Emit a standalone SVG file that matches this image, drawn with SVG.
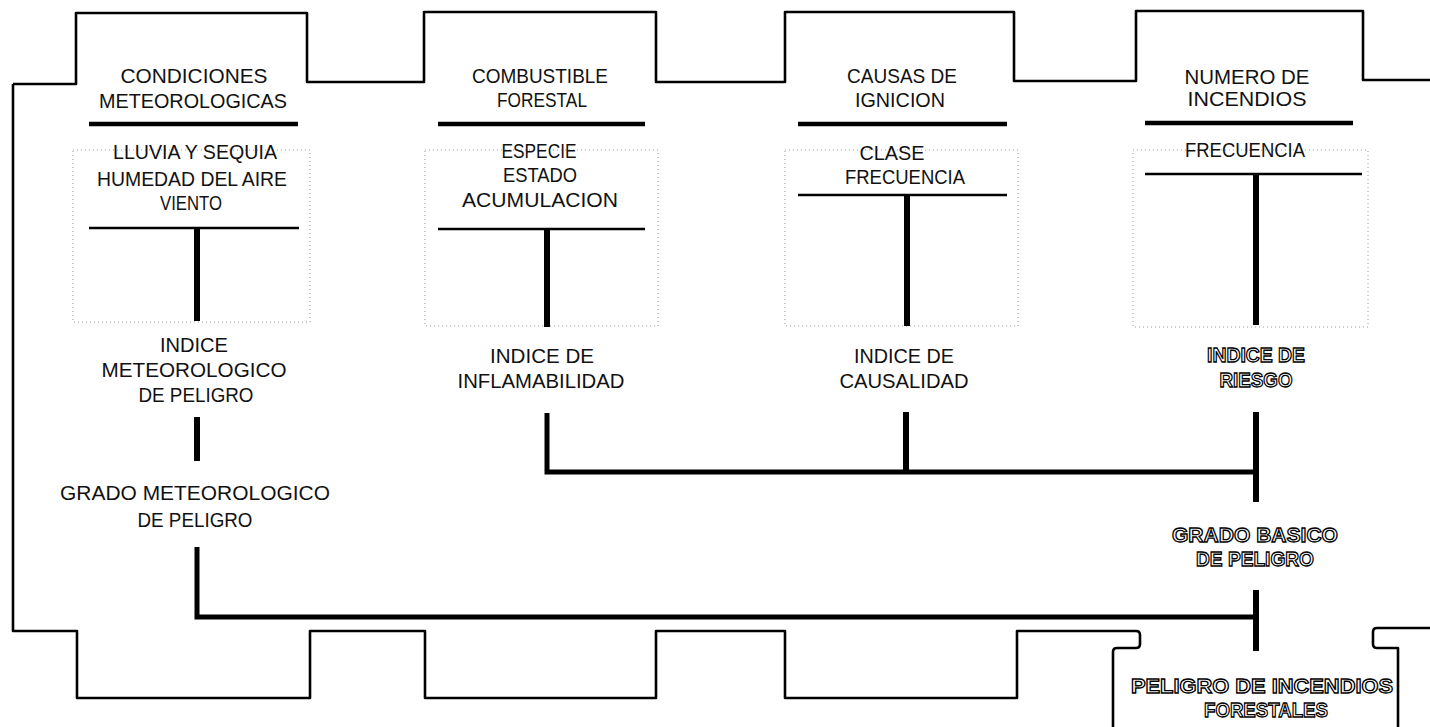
<svg xmlns="http://www.w3.org/2000/svg" width="1430" height="727" viewBox="0 0 1430 727">
<style>
.t{font-family:"Liberation Sans",Arial,sans-serif;font-size:21px;fill:#111;text-anchor:middle}
.o{font-family:"Liberation Sans",Arial,sans-serif;font-size:21px;font-weight:bold;fill:#fff;stroke:#000;stroke-width:1.3;text-anchor:middle}
.frame{fill:none;stroke:#000;stroke-width:2.6;stroke-linejoin:round}
.bar{stroke:#000;stroke-width:4.5}
.thin{stroke:#000;stroke-width:2.6}
.faint{fill:none;stroke:#9a9a9a;stroke-width:1;stroke-dasharray:1 3}
.c{stroke:#000;stroke-width:6;fill:none}
.h{stroke:#000;stroke-width:5;fill:none}
</style>
<rect x="0" y="0" width="1430" height="727" fill="#fff"/>
<g id="frame">
<path class="frame" d="M13,84 H76 V13 H307 V82 H424 V12 H656 V82 H785 V12 H1014 V81 H1136 V11 H1363 V80 H1432"/>
<path class="frame" d="M1113,730 V652 Q1113,648 1117,648 H1136 Q1140,648 1140,644 V635 Q1140,631 1136,631 H1017 V698 H785 V631 H656 V698 H425 V631 H310 V698 H77 V631 H13 V84"/>
<path class="frame" d="M1432,628 H1377 Q1373,628 1373,632 V644 Q1373,648 1377,648 H1398 V730"/>
<rect class="faint" x="73" y="150" width="237" height="172"/>
<rect class="faint" x="425" y="150" width="233" height="176"/>
<rect class="faint" x="785" y="150" width="233" height="176"/>
<rect class="faint" x="1133" y="150" width="235" height="177"/>
</g>
<g id="n-condiciones">
<text class="t" x="194" y="83" textLength="147" lengthAdjust="spacingAndGlyphs">CONDICIONES</text>
<text class="t" x="193" y="108" textLength="188" lengthAdjust="spacingAndGlyphs">METEOROLOGICAS</text>
<line class="bar" x1="89" y1="124" x2="298" y2="124"/>
<text class="t" x="195" y="159" textLength="164" lengthAdjust="spacingAndGlyphs">LLUVIA Y SEQUIA</text>
<text class="t" x="192" y="186" textLength="190" lengthAdjust="spacingAndGlyphs">HUMEDAD DEL AIRE</text>
<text class="t" x="191" y="210" textLength="62" lengthAdjust="spacingAndGlyphs">VIENTO</text>
<line class="thin" x1="89" y1="228" x2="299" y2="228"/>
</g>
<g id="n-combustible">
<text class="t" x="540" y="83" textLength="136" lengthAdjust="spacingAndGlyphs">COMBUSTIBLE</text>
<text class="t" x="542" y="107" textLength="90" lengthAdjust="spacingAndGlyphs">FORESTAL</text>
<line class="bar" x1="438" y1="124" x2="645" y2="124"/>
<text class="t" x="539" y="158" textLength="75" lengthAdjust="spacingAndGlyphs">ESPECIE</text>
<text class="t" x="540" y="182" textLength="74" lengthAdjust="spacingAndGlyphs">ESTADO</text>
<text class="t" x="540" y="207" textLength="156" lengthAdjust="spacingAndGlyphs">ACUMULACION</text>
<line class="thin" x1="438" y1="229" x2="645" y2="229"/>
</g>
<g id="n-causas">
<text class="t" x="902" y="83" textLength="110" lengthAdjust="spacingAndGlyphs">CAUSAS DE</text>
<text class="t" x="900" y="107" textLength="90" lengthAdjust="spacingAndGlyphs">IGNICION</text>
<line class="bar" x1="798" y1="124" x2="1007" y2="124"/>
<text class="t" x="892" y="160" textLength="65" lengthAdjust="spacingAndGlyphs">CLASE</text>
<text class="t" x="905" y="184" textLength="120" lengthAdjust="spacingAndGlyphs">FRECUENCIA</text>
<line class="thin" x1="798" y1="195" x2="1007" y2="195"/>
</g>
<g id="n-numero">
<text class="t" x="1247" y="84" textLength="125" lengthAdjust="spacingAndGlyphs">NUMERO DE</text>
<text class="t" x="1247" y="106" textLength="119" lengthAdjust="spacingAndGlyphs">INCENDIOS</text>
<line class="bar" x1="1145" y1="123" x2="1353" y2="123"/>
<text class="t" x="1245" y="157" textLength="120" lengthAdjust="spacingAndGlyphs">FRECUENCIA</text>
<line class="thin" x1="1145" y1="174" x2="1362" y2="174"/>
</g>
<g id="n-indice-meteo">
<text class="t" x="194" y="352" textLength="68" lengthAdjust="spacingAndGlyphs">INDICE</text>
<text class="t" x="194" y="377" textLength="185" lengthAdjust="spacingAndGlyphs">METEOROLOGICO</text>
<text class="t" x="196" y="402" textLength="115" lengthAdjust="spacingAndGlyphs">DE PELIGRO</text>
</g>
<g id="n-indice-infl">
<text class="t" x="542" y="363" textLength="104" lengthAdjust="spacingAndGlyphs">INDICE DE</text>
<text class="t" x="541" y="388" textLength="167" lengthAdjust="spacingAndGlyphs">INFLAMABILIDAD</text>
</g>
<g id="n-indice-caus">
<text class="t" x="904" y="363" textLength="100" lengthAdjust="spacingAndGlyphs">INDICE DE</text>
<text class="t" x="904" y="388" textLength="129" lengthAdjust="spacingAndGlyphs">CAUSALIDAD</text>
</g>
<g id="n-indice-riesgo">
<text class="o" x="1256" y="362" textLength="98" lengthAdjust="spacingAndGlyphs">INDICE DE</text>
<text class="o" x="1256" y="387" textLength="73" lengthAdjust="spacingAndGlyphs">RIESGO</text>
</g>
<g id="n-grado-meteo">
<text class="t" x="195" y="500" textLength="270" lengthAdjust="spacingAndGlyphs">GRADO METEOROLOGICO</text>
<text class="t" x="195" y="527" textLength="115" lengthAdjust="spacingAndGlyphs">DE PELIGRO</text>
</g>
<g id="n-grado-basico">
<text class="o" x="1255" y="542" textLength="166" lengthAdjust="spacingAndGlyphs">GRADO BASICO</text>
<text class="o" x="1255" y="566" textLength="118" lengthAdjust="spacingAndGlyphs">DE PELIGRO</text>
</g>
<g id="n-peligro">
<text class="o" x="1262" y="693" textLength="262" lengthAdjust="spacingAndGlyphs">PELIGRO DE INCENDIOS</text>
<text class="o" x="1266" y="717" textLength="124" lengthAdjust="spacingAndGlyphs">FORESTALES</text>
</g>
<g id="connectors">
<line class="c" x1="197" y1="228" x2="197" y2="321"/>
<line class="c" x1="547" y1="229" x2="547" y2="327"/>
<line class="c" x1="907" y1="195" x2="907" y2="326"/>
<line class="c" x1="1256" y1="174" x2="1256" y2="325"/>
<line class="c" x1="197" y1="417" x2="197" y2="461"/>
<path class="h" d="M547,413 V472 H1256"/>
<line class="c" x1="906" y1="412" x2="906" y2="472"/>
<line class="c" x1="1256" y1="412" x2="1256" y2="502"/>
<path class="h" d="M197,547 V617 H1256"/>
<line class="c" x1="1256" y1="590" x2="1256" y2="651"/>
</g>
</svg>
